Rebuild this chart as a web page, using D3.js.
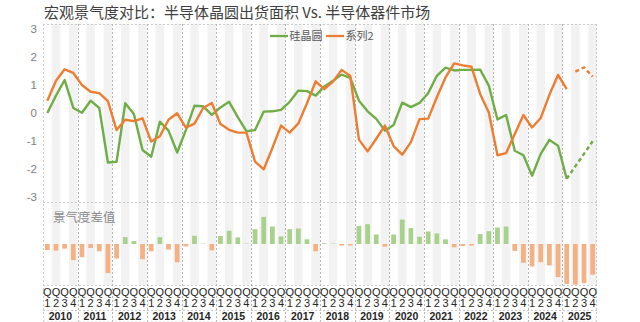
<!DOCTYPE html>
<html>
<head>
<meta charset="utf-8">
<script src="https://cdn.jsdelivr.net/npm/d3@7/dist/d3.min.js"></script>
<style>
  html, body { margin: 0; padding: 0; background: #fff; }
  svg { display: block; font-family: "Liberation Sans", "Noto Sans CJK SC", sans-serif; }
</style>
</head>
<body>
<svg id="chart" width="640" height="322"></svg>
<script>
// Years and quarter labels of the category axis
const years = [2010, 2011, 2012, 2013, 2014, 2015, 2016, 2017, 2018, 2019, 2020, 2021, 2022, 2023, 2024, 2025];
const quarterLabels = ["Q1", "Q2", "Q3", "Q4"];
const yTicks = [-3, -2, -1, 0, 1, 2, 3];

// 硅晶圆 index, 2010Q1 – 2025Q1
const wafer = [
  0.0, 0.62, 1.18, 0.18, 0.01, 0.44, 0.18, -1.77,
  -1.74, 0.35, -0.04, -1.32, -1.56, -0.31, -0.63, -1.41,
  -0.61, 0.26, 0.24, -0.07, 0.2, 0.4, -0.15, -0.65,
  -0.61, 0.05, 0.06, 0.11, 0.4, 0.8, 0.78, 0.62,
  0.95, 1.15, 1.37, 1.25, 0.44, 0.06, -0.21, -0.63,
  -0.43, 0.37, 0.21, 0.36, 0.71, 1.33, 1.62, 1.52,
  1.54, 1.54, 1.55, 0.98, -0.23, -0.07, -1.35, -1.51,
  -2.24, -1.46, -0.96, -1.17, -2.35
];
// 硅晶圆 outlook, 2025Q1 – 2025Q4
const waferForecast = [-2.35, -1.9, -1.46, -1.01];

// 系列2 (device market) index, 2010Q1 – 2025Q1
const device = [
  0.44, 1.15, 1.56, 1.43, 1.0, 0.76, 0.71, 0.42,
  -0.61, -0.24, -0.29, -0.19, -1.02, -0.83, -0.24, -0.01,
  -0.52, -0.38, 0.18, 0.36, -0.39, -0.6, -0.7, -0.7,
  -1.74, -2.01, -1.25, -0.45, -0.7, -0.37, 0.35, 1.13,
  0.85, 1.12, 1.54, 1.32, -0.95, -1.37, -0.92, -0.45,
  -1.18, -1.49, -1.04, -0.22, -0.2, 0.56, 1.27, 1.77,
  1.7, 1.65, 0.68, 0.02, -1.51, -1.43, -0.75, -0.07,
  -0.52, -0.18, 0.65, 1.36, 0.85
];
// 系列2 outlook, 2025Q2 – 2025Q4
const deviceForecast = [1.48, 1.63, 1.3];

// 景气度差值, 2010Q1 – 2025Q4
const gap = [
  -0.45, -0.5, -0.35, -1.22, -1.0, -0.3, -0.55, -2.2,
  -1.1, 0.52, 0.22, -1.15, -0.55, 0.52, -0.42, -1.38,
  -0.18, 0.62, 0.03, -0.48, 0.6, 1.0, 0.5, 0.03,
  1.12, 2.05, 1.32, 0.57, 1.12, 1.17, 0.35, -0.55,
  0.06, 0.03, -0.12, -0.12, 1.37, 1.5, 0.72, -0.2,
  0.72, 1.85, 1.2, 0.55, 0.95, 0.8, 0.35, -0.25,
  -0.15, -0.12, 0.75, 0.97, 1.25, 1.32, -0.52, -1.42,
  -1.7, -1.38, -1.62, -2.5, -3.02, -3.07, -2.97, -2.32
];

const categories = [];
years.forEach(y => quarterLabels.forEach(q => categories.push(y + q)));

const svg = d3.select("#chart");
const left = 43, right = 597;
const topY = 24, midY = 202, barBottom = 285, rowLine = 310, tableBottom = 321.5;

const x = d3.scaleBand().domain(categories).range([left, right]).padding(0);
const bw = x.bandwidth();
const cx = c => x(c) + bw / 2;
const y = d3.scaleLinear().domain([-3, 3]).range([197, 29]);
const yb = d3.scaleLinear().domain([-3.1, 3.1]).range([barBottom, midY + 1]);

const GREEN = "#70ad47", ORANGE = "#ed7d31";
const GREEN_BAR = "#a9d18e", ORANGE_BAR = "#f4b183";
const GRID = "#c9c9c9";

// Alternating quarter bands (Q2, Q4)
svg.append("g").selectAll("rect")
  .data(categories.filter((c, i) => i % 2 === 1))
  .join("rect")
  .attr("x", d => x(d)).attr("y", topY)
  .attr("width", bw).attr("height", barBottom - topY)
  .attr("fill", "#f2f2f2");

// Frame and separators
const frame = svg.append("g").attr("stroke", GRID).attr("stroke-dasharray", "2,2").attr("fill", "none");
[topY, midY, barBottom, rowLine, tableBottom].forEach(v => {
  frame.append("line").attr("x1", left).attr("x2", right).attr("y1", v + 0.5).attr("y2", v + 0.5);
});
frame.append("line").attr("x1", left + 0.5).attr("x2", left + 0.5).attr("y1", topY).attr("y2", tableBottom);
frame.append("line").attr("x1", right - 0.5).attr("x2", right - 0.5).attr("y1", topY).attr("y2", tableBottom);
years.slice(1).forEach(yr => {
  const xx = Math.round(x(yr + "Q1")) + 0.5;
  frame.append("line").attr("x1", xx).attr("x2", xx).attr("y1", topY).attr("y2", tableBottom)
    .attr("stroke", "#b4b4b4");
});

// Y axis
const yAxis = svg.append("g").attr("transform", `translate(37,0)`)
  .call(d3.axisLeft(y).tickValues(yTicks).tickSize(0).tickFormat(d => String(d)));
yAxis.select(".domain").remove();
yAxis.selectAll("text").attr("fill", "#808080").attr("font-size", 11.5).attr("x", 0)
  .style("font-family", "Liberation Sans, sans-serif");

// Difference bars
const barW = bw * 0.55;
svg.append("g").selectAll("rect")
  .data(gap.map((v, i) => ({ c: categories[i], v })))
  .join("rect")
  .attr("x", d => cx(d.c) - barW / 2)
  .attr("y", d => Math.min(yb(0), yb(d.v)))
  .attr("width", barW)
  .attr("height", d => Math.abs(yb(d.v) - yb(0)))
  .attr("fill", d => d.v >= 0 ? GREEN_BAR : ORANGE_BAR);

svg.append("text").attr("x", 53).attr("y", 222)
  .attr("font-size", 12.5).attr("fill", "#8c8c8c")
  .style("font-family", "Noto Sans CJK SC, sans-serif")
  .text("景气度差值");

// Lines
const line = d3.line().x(d => cx(d.c)).y(d => y(d.v));
const toPts = (arr, start) => arr.map((v, i) => ({ c: categories[start + i], v }));

svg.append("path").datum(toPts(wafer, 0)).attr("d", line)
  .attr("fill", "none").attr("stroke", GREEN).attr("stroke-width", 2.4).attr("stroke-linejoin", "round");
svg.append("path").datum(toPts(device, 0)).attr("d", line)
  .attr("fill", "none").attr("stroke", ORANGE).attr("stroke-width", 2.4).attr("stroke-linejoin", "round");
svg.append("path").datum(toPts(waferForecast, 60)).attr("d", line)
  .attr("fill", "none").attr("stroke", GREEN).attr("stroke-width", 2.4).attr("stroke-dasharray", "4,3");
svg.append("path").datum(toPts(deviceForecast, 61)).attr("d", line)
  .attr("fill", "none").attr("stroke", ORANGE).attr("stroke-width", 2.4).attr("stroke-dasharray", "4,3");

// X axis: quarter letters and numbers
const xAxis = svg.append("g").attr("transform", `translate(0,${barBottom})`)
  .call(d3.axisBottom(x).tickSize(0).tickFormat(""));
xAxis.select(".domain").remove();
xAxis.selectAll(".tick").each(function (d) {
  const q = d.slice(4);
  const t = d3.select(this).append("text").attr("fill", "#262626").attr("font-size", 11)
    .attr("text-anchor", "middle").style("font-family", "Liberation Sans, sans-serif");
  t.append("tspan").attr("x", 0).attr("y", 11).text(q[0]);
  t.append("tspan").attr("x", 0).attr("y", 22).text(q[1]);
});

// Year labels
svg.append("g").selectAll("text").data(years).join("text")
  .attr("x", d => x(d + "Q1") + bw * 2)
  .attr("y", 320)
  .attr("text-anchor", "middle")
  .attr("font-size", 10.5).attr("font-weight", "bold").attr("fill", "#262626")
  .text(d => d);

// Title
svg.append("text").attr("x", 44).attr("y", 18)
  .attr("font-size", 15).attr("fill", "#404040")
  .style("font-family", "Noto Sans CJK SC, sans-serif")
  .text("宏观景气度对比：半导体晶圆出货面积 Vs. 半导体器件市场");

// Legend
const legend = svg.append("g").attr("font-size", 11).attr("fill", "#595959")
  .style("font-family", "Noto Sans CJK SC, sans-serif");
[{ name: "硅晶圆", color: GREEN, x0: 270 }, { name: "系列2", color: ORANGE, x0: 326 }].forEach(s => {
  legend.append("line").attr("x1", s.x0).attr("x2", s.x0 + 18).attr("y1", 36).attr("y2", 36)
    .attr("stroke", s.color).attr("stroke-width", 2.3);
  legend.append("text").attr("x", s.x0 + 19.5).attr("y", 40).text(s.name);
});
</script>
</body>
</html>
